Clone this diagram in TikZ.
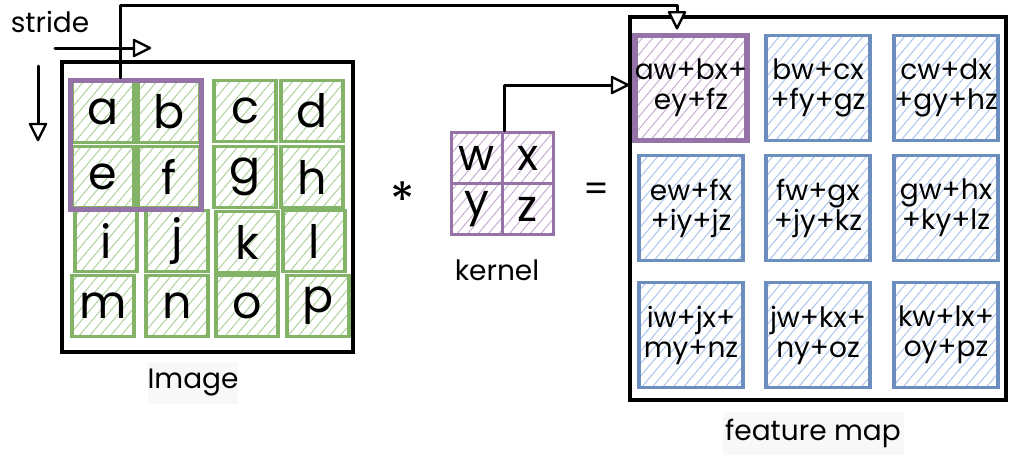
\documentclass[tikz,border=0pt]{standalone}
\usepackage{fontspec}
\setmainfont{Poppins}
\usetikzlibrary{patterns.meta}

\definecolor{gG}{HTML}{82B366}
\definecolor{hG}{HTML}{ADD19C}
\definecolor{pP}{HTML}{9673A6}
\definecolor{hP}{HTML}{C6ADD2}
\definecolor{bB}{HTML}{6C8EBF}
\definecolor{hB}{HTML}{A9C4EC}
\definecolor{lblbg}{HTML}{F8F8F8}

\tikzset{
  hatch/.style={pattern={Lines[angle=50,distance=8pt,line width=1pt]},pattern color=#1},
  gcell/.style={draw=gG,line width=3.5pt,hatch=hG,minimum width=62pt,minimum height=61pt,
    inner sep=0pt,font=\fontsize{46}{46}\selectfont},
  kcell/.style={draw=pP,line width=3.5pt,hatch=hP,minimum width=51pt,minimum height=51pt,
    inner sep=0pt,font=\fontsize{44}{44}\selectfont},
  fcell/.style={draw=bB,line width=3.5pt,hatch=hB,minimum width=104pt,minimum height=105pt,
    inner sep=0pt,align=center,font=\fontsize{28}{30}\selectfont},
  frame/.style={draw=black,line width=3.2pt,inner sep=0pt},
  win/.style={draw=pP,line width=5.5pt,inner sep=0pt},
  lbl/.style={font=\fontsize{28}{28}\selectfont,inner sep=0pt},
  lblbox/.style={fill=lblbg,inner sep=0pt,font=\fontsize{28}{28}\selectfont},
  link/.style={draw=black,line width=3pt,line cap=round,line join=round},
  head/.style={draw=black,fill=white,line width=2.4pt,line join=round}
}

\begin{document}
\begin{tikzpicture}[x=1pt,y=-1pt]
\useasboundingbox (0,0) rectangle (1009,455);

% input image frame and its 4x4 pixels
\node[frame,minimum width=291pt,minimum height=290pt] (img) at (207.5,207) {};
\node[gcell] (a) at (103,112) {a};
\node[gcell] (b) at (169,112) {b};
\node[gcell] (c) at (245,111) {c};
\node[gcell] (d) at (312,111) {d};
\node[gcell] (e) at (103,177) {e};
\node[gcell] (f) at (169,177) {f};
\node[gcell] (g) at (245,177) {g};
\node[gcell] (h) at (312,177) {h};
\node[gcell] (i) at (106,241) {i};
\node[gcell] (j) at (177,241) {j};
\node[gcell] (k) at (247,242) {k};
\node[gcell] (l) at (314,241) {l};
\node[gcell] (m) at (103,306) {m};
\node[gcell] (n) at (177,306) {n};
\node[gcell] (o) at (247,306) {o};
\node[gcell] (p) at (318,306) {p};

% sliding window over the first 2x2 patch
\node[win,minimum width=131pt,minimum height=129pt] (win) at (136,145) {};

% stride label and its two directions
\node[lbl] (stride) at (50,22) {stride};
\coordinate (sh0) at (55,48);
\coordinate (sh1) at (150,48);
\coordinate (sv0) at (38,66);
\coordinate (sv1) at (38,140);
\draw[link] (sh0) -- ([xshift=-16pt]sh1);
\draw[head] (sh1) -- ++(-16,-8) -- ++(0,16) -- cycle;
\draw[link] (sv0) -- ([yshift=16pt]sv1);
\draw[head] (sv1) -- ++(-8,-16) -- ++(16,0) -- cycle;

\node[lblbox,minimum width=76pt,minimum height=42pt] (imglbl) at (193,383) {Image};

% operator symbols
\node[font=\fontsize{50}{50}\selectfont,inner sep=0pt] (star) at (403,200) {*};
\node[font=\fontsize{36}{36}\selectfont,inner sep=0pt] (eq) at (597,192) {=};

% kernel
\node[kcell] (w) at (477,158) {w};
\node[kcell] (x) at (528,158) {x};
\node[kcell] (y) at (477,209) {y};
\node[kcell] (z) at (528,209) {z};
\node[lbl] (klbl) at (497,270) {kernel};

% feature map frame and its 3x3 outputs
\node[frame,minimum width=376pt,minimum height=383pt] (fmap) at (818,208.5) {};
\node[fcell,draw=pP,line width=5.5pt,hatch=hP] (f1) at (691,88) {aw+bx+\\ey+fz};
\node[fcell] (f2) at (818,88) {bw+cx\\+fy+gz};
\node[fcell] (f3) at (946,88) {cw+dx\\+gy+hz};
\node[fcell] (f4) at (691,208) {ew+fx\\+iy+jz};
\node[fcell] (f5) at (818,208) {fw+gx\\+jy+kz};
\node[fcell] (f6) at (946,208) {gw+hx\\+ky+lz};
\node[fcell] (f7) at (691,335) {iw+jx+\\my+nz};
\node[fcell] (f8) at (818,335) {jw+kx+\\ny+oz};
\node[fcell] (f9) at (946,335) {kw+lx+\\oy+pz};

\node[lblbox,minimum width=181pt,minimum height=43pt] (fmlbl) at (813,433) {feature map};

% connectors: window position -> first output, kernel -> first output
\coordinate (t1) at ([xshift=-14pt,yshift=4.5pt]f1.north);
\coordinate (t2) at ([xshift=-4pt,yshift=3pt]f1.west);
\draw[link] ([xshift=-16pt]win.north) -- ++(0,-72) -| ([yshift=16pt]t1);
\draw[head] (t1) -- ++(-8,-16) -- ++(16,0) -- cycle;
\draw[link] (w.north east) |- ([xshift=-16pt]t2);
\draw[head] (t2) -- ++(-16,-8) -- ++(0,16) -- cycle;
\end{tikzpicture}
\end{document}
